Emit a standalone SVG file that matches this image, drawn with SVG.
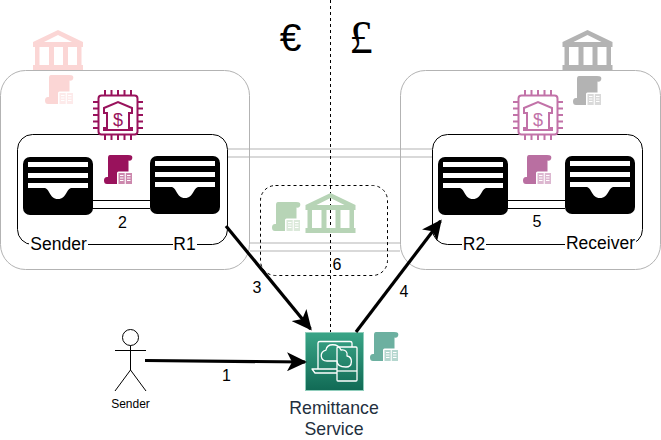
<svg xmlns="http://www.w3.org/2000/svg" width="661" height="440" viewBox="0 0 661 440">
<style>
text{font-family:"Liberation Sans",Arial,sans-serif;fill:#000}
.lbl{font-size:17.5px;text-anchor:middle}
.num{font-size:16px;text-anchor:middle}
.outer{fill:#fff;stroke:#b3b3b3;stroke-width:1}
.inner{fill:#fff;stroke:#000;stroke-width:1}
.gray{fill:none;stroke:#b3b3b3;stroke-width:1}
.thin{fill:none;stroke:#000;stroke-width:1}
.dash{fill:none;stroke:#000;stroke-width:1;stroke-dasharray:3 3}
.flow{fill:none;stroke:#000;stroke-width:3.200}
.svc{font-size:17.700px;text-anchor:middle;fill:#232f3e}
</style>
<defs>
<marker id="head" markerUnits="userSpaceOnUse" markerWidth="21" markerHeight="19" refX="18" refY="9.500" orient="auto" viewBox="0 0 21 19"><path d="M0 0 L20 9.500 L0 19 L5 9.500 Z" fill="#000"/></marker>
<linearGradient id="svcg" x1="0" y1="0" x2="0" y2="1"><stop offset="0" stop-color="#3aa587"/><stop offset="1" stop-color="#116a55"/></linearGradient>
<g id="bank">
<path fill="currentColor" fill-rule="evenodd" d="M25 0 L50 12 V17 H0 V12 Z M25 5 L11 12 H39 Z"/>
<path fill="currentColor" d="M2 17 H6.500 V35 H2 Z M16 17 H21 V35 H16 Z M30 17 H35 V35 H30 Z M44 17 H48.500 V35 H44 Z M0 35 H50 V40 H0 Z"/>
</g>
<g id="scroll">
<path fill="currentColor" d="M6 0 H24 Q27 0 28 1 Q29 3 27.500 5 Q26 6 24.500 5.500 L24.500 22 H15 V29 H3 Q0 29 0 25.500 Q0 22 3 22 H4 V3 Q4 0 6 0 Z"/>
<rect x="13" y="16.500" width="16.500" height="13.500" rx="1.500" fill="#fff"/>
<path fill="currentColor" fill-opacity=".5" d="M14.500 18 H20.700 V29 H14.500 Z M21.800 18 H28 V29 H21.800 Z"/>
<path fill="none" stroke="#fff" stroke-width="1" d="M16 20.500 H19.500 M16 23 H19.500 M16 25.500 H19.500 M23 20.500 H26.500 M23 23 H26.500 M23 25.500 H26.500"/>
</g>
<g id="chip" fill="none" stroke="currentColor">
<rect x="5.500" y="5.500" width="39" height="39" rx="3" fill="#fff" stroke-width="2"/>
<path stroke-width="2" d="M12 0 V5 M18.500 0 V5 M25 0 V5 M31.500 0 V5 M38 0 V5 M12 45 V50 M18.500 45 V50 M25 45 V50 M31.500 45 V50 M38 45 V50 M0 12 H5 M0 18.500 H5 M0 25 H5 M0 31.500 H5 M0 38 H5 M45 12 H50 M45 18.500 H50 M45 25 H50 M45 31.500 H50 M45 38 H50"/>
<path stroke-width="2" d="M11 18 L25 12 L39 18 V23 H36 V38 H39 V40 H11 V38 H14 V23 H11 Z"/>
<text x="25" y="36" font-size="18" text-anchor="middle" style="fill:currentColor" stroke="none">$</text>
</g>
<g id="wallet">
<rect width="70" height="58" rx="7" fill="#000"/>
<path fill="#fff" d="M5 5 H65 V10 H5 Z M5 16 H65 V21 H5 Z M5 26 H65 V31 H49 C43 31 44 42 35 42 C26 42 27 31 21 31 H5 Z"/>
</g>
</defs>
<rect width="661" height="440" fill="#fff"/>
<g id="sender-bank-zone"><rect class="outer" x="0.500" y="70.500" width="249" height="199" rx="25"/></g>
<g id="receiver-bank-zone"><rect class="outer" x="400.500" y="70.500" width="260" height="199" rx="25"/></g>
<g id="connectors">
<path class="gray" d="M228 149 H432 M228 157 H432 M250 243 H400 M250 251 H400"/>
<path class="dash" d="M330.500 0 V332"/>
</g>
<g id="corridor"><rect class="dash" x="260.500" y="185.500" width="127" height="90" rx="15"/>
<use href="#scroll" x="272" y="202" style="color:#b7d4b6"/><use href="#bank" x="305.500" y="193" style="color:#b7d4b6"/>
<text class="num" x="337" y="270">6</text></g>
<g id="sender-side">
<use href="#bank" x="33" y="30" style="color:#fbd6d5"/>
<use href="#scroll" x="45" y="75" style="color:#fbd6d5"/>
<rect class="inner" x="17.500" y="134.500" width="210" height="110" rx="15"/>
<use href="#chip" x="93" y="90" style="color:#99125c"/>
<use href="#wallet" x="23" y="157"/>
<use href="#wallet" x="150" y="156"/>
<use href="#scroll" x="104" y="155" style="color:#99125c"/>
<path class="thin" d="M92 200.500 H150 M92 208.500 H150"/>
<text class="num" x="122.500" y="228">2</text>
<rect x="29" y="237" width="59" height="15" fill="#fff"/><text class="lbl" x="58.500" y="249.500">Sender</text>
<rect x="173" y="237" width="24" height="15" fill="#fff"/><text class="lbl" x="184.500" y="249.500">R1</text>
</g>
<g id="receiver-side">
<use href="#bank" x="562.500" y="30" style="color:#b3b3b3"/>
<use href="#scroll" x="573" y="76" style="color:#b3b3b3"/>
<rect class="inner" x="432.500" y="134.500" width="210" height="110" rx="15"/>
<use href="#chip" x="513" y="90" style="color:#c272a8"/>
<use href="#wallet" x="438" y="157"/>
<use href="#wallet" x="565" y="156"/>
<use href="#scroll" x="523" y="155" style="color:#b96fa1"/>
<path class="thin" d="M507 200.500 H565 M507 208.500 H565"/>
<text class="num" x="537" y="227">5</text>
<rect x="462" y="237" width="24" height="15" fill="#fff"/><text class="lbl" x="474" y="249.500">R2</text>
<rect x="565" y="237" width="71" height="15" fill="#fff"/><text class="lbl" x="600.500" y="249">Receiver</text>
</g>
<g id="currencies">
<text x="290.500" y="51" font-size="39" text-anchor="middle">€</text>
<text x="361" y="53" font-size="47" text-anchor="middle" style="font-family:'Liberation Serif',serif">£</text>
</g>
<g id="sender-actor" fill="none" stroke="#000">
<circle cx="130.500" cy="337.500" r="8" fill="#fff"/>
<path d="M130.500 345.500 V370 M115 350.500 H146 M130.500 370 L115 391 M130.500 370 L146 391"/>
<text x="130.500" y="408" font-size="12" text-anchor="middle" stroke="none">Sender</text>
</g>
<g id="remittance-service">
<rect x="305.500" y="332.500" width="58" height="58" fill="url(#svcg)" stroke="#8fcdbb" stroke-width="1"/>
<g fill="none" stroke="#fff" stroke-width="1.300" stroke-linejoin="round">
<path d="M318 369 V343 Q318 341.500 320 341.500 H350 Q352 341.500 352 343 V347"/>
<path d="M337 369 H312 L315 373 H337"/>
<rect x="337" y="347" width="20" height="34" rx="1"/>
<path d="M337 371 H357"/>
<path d="M337 361 H327 C320 361 319 352 326 350 C327 343 338 343 341 350 C345 349 348 352 347 356 C353 357 353 367 346 367 C341 367 337 366 337 361 Z"/>
</g>
<use href="#scroll" x="370" y="332" style="color:#6cb0a0"/>
<text class="svc" x="334" y="414">Remittance</text>
<text class="svc" x="334" y="435">Service</text>
</g>
<g id="flows">
<path class="flow" d="M145 360.500 L305 362" marker-end="url(#head)"/>
<path class="flow" d="M226 226 L310.500 329" marker-end="url(#head)"/>
<path class="flow" d="M356 332 L440.500 221" marker-end="url(#head)"/>
<text class="num" x="226.500" y="381">1</text>
<text class="num" x="257" y="293">3</text>
<text class="num" x="404" y="297">4</text>
</g>
</svg>
